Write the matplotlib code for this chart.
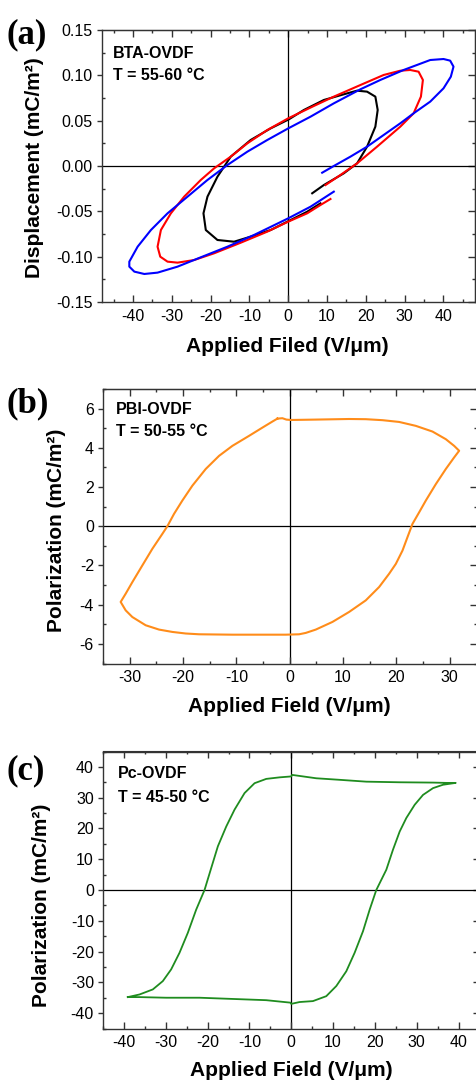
import matplotlib
matplotlib.use("Agg")
import matplotlib.pyplot as plt
from matplotlib.ticker import MultipleLocator, FormatStrFormatter
import numpy as np

plt.rcParams['font.family'] = ['Liberation Sans', 'DejaVu Sans']
plt.rcParams['axes.unicode_minus'] = False

W, H = 476, 1082

# ---------------- data ----------------
# Panel (a) BTA-OVDF, displacement loops
a_black_E = [6.17, 9.17, 14.31, 17.74, 20.31, 22.45, 23.05, 22.45, 20.31, 17.74, 15.17, 9.17, 4.03, 0.17,
             -4.54, -9.68, -14.82, -18.25, -20.82, -21.85, -21.25, -18.25, -13.97, -9.68, -4.54, 0.60, 4.88, 8.31]
a_black_D = [-0.0301, -0.0210, -0.0081, 0.0029, 0.0213, 0.0434, 0.0618, 0.0765, 0.0820, 0.0831, 0.0801, 0.0728,
             0.0618, 0.0515, 0.0415, 0.0287, 0.0103, -0.0118, -0.0338, -0.0522, -0.0706, -0.0816, -0.0835,
             -0.0779, -0.0706, -0.0596, -0.0504, -0.0412]

a_red_E = [9.60, 13.45, 17.74, 22.88, 28.88, 32.31, 34.19, 34.70, 33.59, 31.45, 28.88, 24.59, 18.59, 11.74,
           6.60, 0.00, -5.40, -10.54, -14.82, -19.11, -22.54, -26.82, -30.25, -32.82, -33.68, -32.99, -31.11,
           -28.53, -24.25, -19.11, -12.25, -5.40, 0.00, 4.88, 8.31, 10.88]
a_red_D = [-0.0210, -0.0099, 0.0029, 0.0213, 0.0434, 0.0581, 0.0765, 0.0949, 0.1040, 0.1059, 0.1051, 0.1004,
           0.0893, 0.0765, 0.0662, 0.0526, 0.0397, 0.0250, 0.0103, -0.0026, -0.0154, -0.0338, -0.0522, -0.0706,
           -0.0890, -0.1000, -0.1055, -0.1066, -0.1037, -0.0963, -0.0846, -0.0724, -0.0614, -0.0522, -0.0430,
           -0.0364]

a_blue_E = [8.74, 11.74, 16.02, 20.31, 24.59, 28.88, 32.31, 36.59, 40.02, 41.90, 42.59, 41.73, 40.02, 36.59,
            29.73, 23.74, 18.59, 11.74, 5.74, 0.00, -5.40, -10.54, -15.68, -20.82, -25.96, -31.11, -35.39,
            -38.82, -40.96, -40.96, -39.67, -37.10, -33.68, -28.53, -22.54, -15.68, -8.83, 0.00, 5.74, 11.74]
a_blue_D = [-0.0074, 0.0000, 0.0103, 0.0213, 0.0342, 0.0471, 0.0581, 0.0710, 0.0857, 0.0985, 0.1096, 0.1162,
            0.1180, 0.1169, 0.1059, 0.0949, 0.0846, 0.0691, 0.0544, 0.0415, 0.0287, 0.0158, 0.0011, -0.0154,
            -0.0338, -0.0522, -0.0706, -0.0890, -0.1055, -0.1110, -0.1165, -0.1191, -0.1176, -0.1110, -0.1007,
            -0.0890, -0.0761, -0.0577, -0.0449, -0.0283]

# Panel (b) PBI-OVDF
b_E = [-2.31, -1.38, -0.63, 0.19, 4.88, 11.13, 14.25, 17.38, 20.50, 23.63, 26.75, 29.25, 30.81, 31.75,
       30.81, 29.25, 27.38, 25.50, 24.25, 23.00, 22.06, 21.13, 19.88, 18.63, 16.75, 14.25, 11.13, 8.00, 4.88,
       3.00, 1.75, -0.75, -4.50, -10.75, -17.00, -19.50, -22.00, -24.50, -27.00, -29.50, -30.75, -31.69,
       -30.75, -29.50, -27.63, -25.75, -23.88, -22.94, -21.69, -20.13, -18.25, -15.75, -13.25, -10.75, -7.63,
       -5.13, -3.25, -2.31]
b_P = [5.49, 5.51, 5.44, 5.42, 5.44, 5.47, 5.46, 5.41, 5.32, 5.12, 4.83, 4.44, 4.10, 3.85,
       3.51, 2.92, 2.15, 1.31, 0.71, 0.12, -0.56, -1.24, -1.92, -2.42, -3.10, -3.78, -4.37, -4.88, -5.27,
       -5.44, -5.51, -5.53, -5.53, -5.53, -5.51, -5.47, -5.39, -5.27, -5.05, -4.63, -4.29, -3.86,
       -3.44, -2.85, -2.00, -1.15, -0.39, 0.00, 0.63, 1.31, 2.07, 2.92, 3.59, 4.10, 4.61,
       5.03, 5.34, 5.49]

# Panel (c) Pc-OVDF
c_E = [-39.07, -36.28, -33.09, -30.70, -28.71, -26.71, -24.72, -22.73, -20.73, -19.14, -17.54, -15.55,
       -13.56, -11.16, -8.77, -5.98, -2.79, 0.00, 0.20, 5.98, 11.56, 17.94, 25.92, 33.89, 37.08, 39.31,
       36.28, 33.89, 31.50, 29.51, 27.51, 25.92, 24.32, 22.73, 20.33, 18.74, 17.15, 15.15, 13.16, 10.77,
       8.37, 5.18, 1.99, 0.00, -0.20, -5.98, -13.96, -21.93, -29.90, -36.28, -39.07]
c_P = [-34.8, -33.95, -32.3, -29.6, -25.8, -20.4, -13.9, -6.4, 0.0, 7.1, 14.2, 20.6,
       26.1, 31.5, 34.7, 36.1, 36.6, 36.9, 37.4, 36.3, 35.8, 35.2, 35.0, 34.9, 34.8, 34.8,
       34.2, 33.1, 30.9, 27.7, 23.4, 19.0, 13.1, 6.6, 0.0, -6.4, -13.4, -20.4, -26.4, -31.2,
       -34.5, -36.1, -36.4, -37.0, -36.6, -35.8, -35.4, -35.0, -35.0, -34.8, -34.8]

a_xticks = [-40, -30, -20, -10, 0, 10, 20, 30, 40]
a_yticks = [-0.15, -0.10, -0.05, 0.00, 0.05, 0.10, 0.15]
b_xticks = [-30, -20, -10, 0, 10, 20, 30]
b_yticks = [-6, -4, -2, 0, 2, 4, 6]
c_xticks = [-40, -30, -20, -10, 0, 10, 20, 30, 40]
c_yticks = [-40, -30, -20, -10, 0, 10, 20, 30, 40]

# ---------------- figure ----------------
fig = plt.figure(figsize=(W / 100, H / 100), dpi=100)


def px_axes(l, t, r, b):
    return fig.add_axes([l / W, 1 - b / H, (r - l) / W, (b - t) / H])


def style(ax, xlim, ylim, xt, yt, xminor, yminor, yfmt=None):
    ax.set_xlim(*xlim)
    ax.set_ylim(*ylim)
    ax.set_xticks(xt)
    ax.set_yticks(yt)
    ax.xaxis.set_minor_locator(MultipleLocator(xminor))
    ax.yaxis.set_minor_locator(MultipleLocator(yminor))
    if yfmt:
        ax.yaxis.set_major_formatter(FormatStrFormatter(yfmt))
    for s in ax.spines.values():
        s.set_color('#333333')
        s.set_linewidth(1.0)
    ax.tick_params(axis='x', which='major', direction='in', length=5, width=1, color='#333333',
                   labelsize=11.5, pad=5, top=False)
    ax.tick_params(axis='x', which='minor', direction='in', length=2.5, width=1, color='#333333', top=False)
    ax.tick_params(axis='y', which='major', direction='out', length=3.5, width=1, color='#333333',
                   labelsize=11.5, pad=3, right=False)
    ax.tick_params(axis='y', which='minor', direction='in', length=2.5, width=1, color='#333333', right=False)
    ax.axhline(0, color='black', lw=0.9, zorder=1)
    ax.axvline(0, color='black', lw=0.9, zorder=1)
    # top / right inward ticks
    sx = ax.secondary_xaxis('top')
    sx.set_xticks(xt)
    sx.xaxis.set_minor_locator(MultipleLocator(xminor))
    sx.tick_params(which='major', direction='in', length=5, width=1, color='#333333', labeltop=False)
    sx.tick_params(which='minor', direction='in', length=2.5, width=1, color='#333333')
    sx.spines['top'].set_color('#333333')
    sy = ax.secondary_yaxis('right')
    sy.set_yticks(yt)
    sy.yaxis.set_minor_locator(MultipleLocator(yminor))
    sy.tick_params(which='major', direction='in', length=5, width=1, color='#333333', labelright=False)
    sy.tick_params(which='minor', direction='in', length=2.5, width=1, color='#333333')
    sy.spines['right'].set_color('#333333')


def ftext(x, y, s, **kw):
    fig.text(x / W, 1 - y / H, s, **kw)


# Panel (a)
axa = px_axes(102, 30, 474.5, 302)
axa.plot(a_black_E, a_black_D, color='black', lw=1.5, zorder=3)
axa.plot(a_red_E, a_red_D, color='#ff0000', lw=1.5, zorder=3)
axa.plot(a_blue_E, a_blue_D, color='#0000ff', lw=1.5, zorder=4)
style(axa, (-48, 48), (-0.15, 0.15), a_xticks, a_yticks, 5, 0.025, '%.2f')

# Panel (b)
axb = px_axes(103, 389, 476.5, 663.5)
axb.plot(b_E, b_P, color='#ff8c1a', lw=1.5, zorder=3)
style(axb, (-35, 35), (-7, 7), b_xticks, b_yticks, 5, 1)

# Panel (c)
axc = px_axes(103, 751.5, 479.5, 1028.5)
axc.plot(c_E, c_P, color='#1f8c1f', lw=1.3, zorder=3)
style(axc, (-45, 45), (-45, 45), c_xticks, c_yticks, 5, 5)

# Axis labels
lab = dict(fontsize=15, fontweight='bold', ha='center', va='center')
ftext(287, 347, 'Applied Filed (V/\u03bcm)', **lab)
ftext(289, 707, 'Applied Field (V/\u03bcm)', **lab)
ftext(291, 1071, 'Applied Field (V/\u03bcm)', **lab)
ftext(35, 168, 'Displacement (mC/m\u00b2)', rotation=90, **lab)
ftext(57, 530, 'Polarization (mC/m\u00b2)', rotation=90, **lab)
ftext(42, 905, 'Polarization (mC/m\u00b2)', rotation=90, **lab)

# Annotations
ann = dict(fontsize=11.5, fontweight='bold', ha='left', va='center')
ftext(113, 53, 'BTA-OVDF', **ann)
ftext(113, 76, 'T = 55-60 \u00b0C', **ann)
ftext(116, 409, 'PBI-OVDF', **ann)
ftext(116, 431, 'T = 50-55 \u00b0C', **ann)
ftext(118, 774, 'Pc-OVDF', **ann)
ftext(118, 797, 'T = 45-50 \u00b0C', **ann)

# Panel letters
let = dict(fontsize=25, fontweight='bold', ha='left', va='center', family=['Liberation Serif', 'DejaVu Serif'])
ftext(6, 35, '(a)', **let)
ftext(6, 404, '(b)', **let)
ftext(6, 771, '(c)', **let)

fig.savefig('out.png', dpi=100)
